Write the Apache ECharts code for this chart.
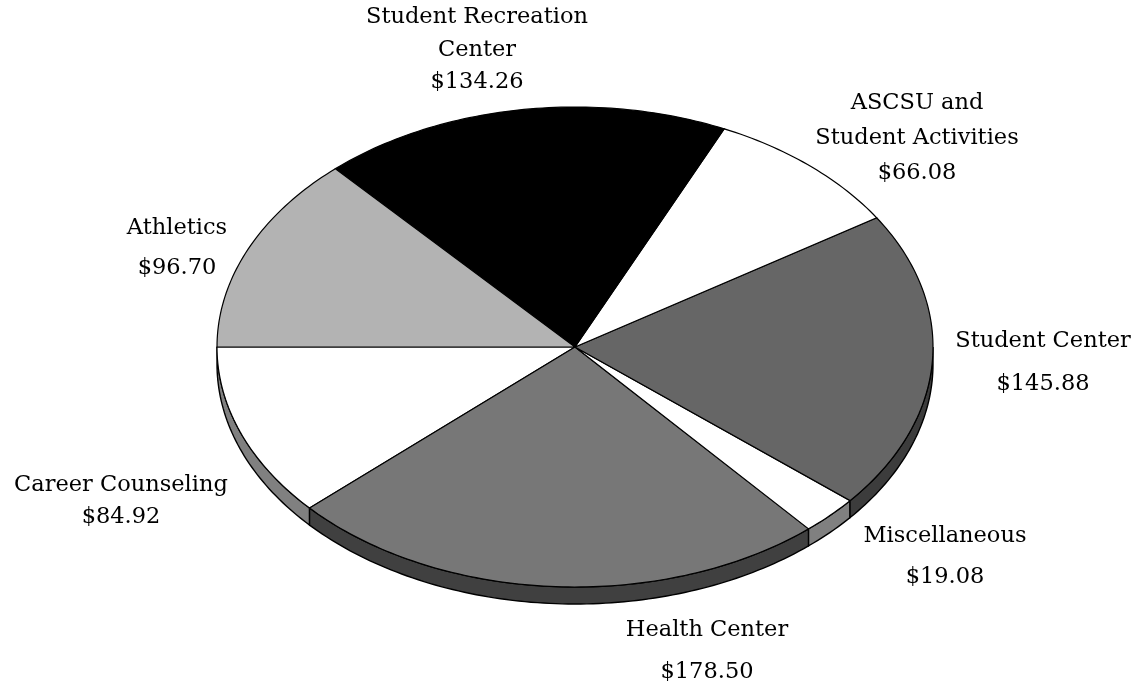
<!DOCTYPE html>
<html>
<head>
<meta charset="utf-8">
<style>
  html, body { margin: 0; padding: 0; background: #fff; }
  #chart { width: 1143px; height: 688px; }
</style>
<script src="https://cdn.jsdelivr.net/npm/echarts@6/dist/echarts.min.js"></script>
</head>
<body>
<div id="chart"></div>
<script>
// slices in drawing order, counter-clockwise starting from 9 o'clock
const names = ['Career Counseling', 'Health Center', 'Miscellaneous', 'Student Center',
  'ASCSU and\nStudent Activities', 'Student Recreation\nCenter', 'Athletics']
const values = [84.92, 178.5, 19.08, 145.88, 66.08, 134.26, 96.7]
const topColors = ['#ffffff', '#777777', '#ffffff', '#666666', '#ffffff', '#000000', '#b3b3b3']
const sideColors = ['#808080', '#404040', '#808080', '#3c3c3c', '#808080', '#222222', '#808080']

// label block centre and line height (px)
const labelPos = [[121, 501, 32], [707, 651, 42], [945, 557, 41], [1043, 363, 43],
  [917, 138, 35], [477, 50, 32.5], [177, 248, 40]]

// pie geometry
const cx = 575, cy = 347, rx = 358, ry = 240, depth = 17, startDeg = 180

const total = values.reduce((a, b) => a + b, 0)
const starts = []
let acc = 0
values.forEach((v) => { starts.push(acc); acc += v })

const pt = (deg, dy) => {
  const r = deg * Math.PI / 180
  return [cx + rx * Math.cos(r), cy - ry * Math.sin(r) + (dy || 0)]
}
const arc = (a0, a1, dy) => {
  const pts = []
  const n = Math.max(2, Math.ceil(Math.abs(a1 - a0)))
  for (let k = 0; k <= n; k++) pts.push(pt(a0 + (a1 - a0) * k / n, dy))
  return pts
}

const chart = echarts.init(document.getElementById('chart'))
chart.setOption({
  animation: false,
  series: [{
    type: 'custom',
    coordinateSystem: 'none',
    data: values.map((v) => [v]),
    renderItem: (params, api) => {
      const i = params.dataIndex
      const a0 = startDeg + starts[i] / total * 360
      const a1 = a0 + api.value(0) / total * 360
      const children = []
      // side wall, only visible on the front half (180..360)
      const s0 = Math.max(a0, 180), s1 = Math.min(a1, 360)
      if (s1 > s0) {
        const top = arc(s0, s1, 0)
        const bot = arc(s1, s0, depth)
        children.push({
          type: 'polygon',
          shape: { points: top.concat(bot) },
          style: { fill: sideColors[i], stroke: '#000', lineWidth: 1.4 }
        })
      }
      children.push({
        type: 'polygon',
        shape: { points: [[cx, cy]].concat(arc(a0, a1, 0)) },
        style: { fill: topColors[i], stroke: '#000', lineWidth: 1.2 }
      })
      const lp = labelPos[i]
      children.push({
        type: 'text',
        x: lp[0],
        y: lp[1],
        style: {
          text: names[i] + '\n$' + values[i].toFixed(2),
          fontFamily: 'DejaVu Serif',
          fontSize: 22.5,
          lineHeight: lp[2],
          fill: '#000',
          align: 'center',
          verticalAlign: 'middle'
        }
      })
      return { type: 'group', children }
    }
  }]
})
</script>
</body>
</html>
